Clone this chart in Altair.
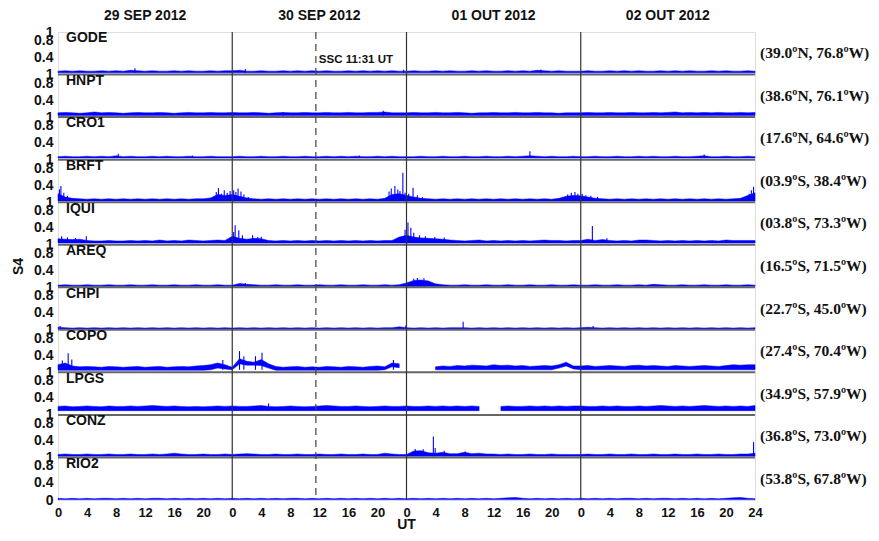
import altair as alt
import pandas as pd

STATIONS = ["GODE", "HNPT", "CRO1", "BRFT", "IQUI", "AREQ", "CHPI", "COPO", "LPGS", "CONZ", "RIO2"]
COORDS = ["(39.0ºN, 76.8ºW)", "(38.6ºN, 76.1ºW)", "(17.6ºN, 64.6ºW)", "(03.9ºS, 38.4ºW)",
          "(03.8ºS, 73.3ºW)", "(16.5ºS, 71.5ºW)", "(22.7ºS, 45.0ºW)", "(27.4ºS, 70.4ºW)",
          "(34.9ºS, 57.9ºW)", "(36.8ºS, 73.0ºW)", "(53.8ºS, 67.8ºW)"]
DAY_LABELS = ["29 SEP 2012", "30 SEP 2012", "01 OUT 2012", "02 OUT 2012"]
DAY_CENTERS = [12, 36, 60, 84]
DAY_BOUNDS = [24, 48, 72]
SSC_HOUR = 24 + 11 + 31 / 60
X_TICKS = list(range(0, 97, 4))

# Hourly upper envelope of S4 (day 1..4, day 4 includes hour 24)
GODE_HI = [
    [0.08, 0.09, 0.08, 0.09, 0.08, 0.08, 0.09, 0.08, 0.09, 0.08, 0.10, 0.09, 0.08, 0.09, 0.08, 0.08, 0.09, 0.08, 0.09, 0.08, 0.08, 0.09, 0.08, 0.09],
    [0.09, 0.10, 0.08, 0.08, 0.09, 0.08, 0.08, 0.09, 0.08, 0.09, 0.08, 0.09, 0.08, 0.09, 0.08, 0.08, 0.09, 0.08, 0.09, 0.08, 0.09, 0.08, 0.09, 0.08],
    [0.08, 0.09, 0.08, 0.08, 0.09, 0.08, 0.09, 0.08, 0.08, 0.09, 0.08, 0.09, 0.08, 0.08, 0.09, 0.08, 0.09, 0.08, 0.10, 0.09, 0.08, 0.09, 0.08, 0.08],
    [0.08, 0.09, 0.08, 0.08, 0.09, 0.08, 0.09, 0.08, 0.09, 0.08, 0.08, 0.09, 0.08, 0.09, 0.08, 0.09, 0.08, 0.08, 0.09, 0.08, 0.09, 0.08, 0.08, 0.09, 0.08],
]
HNPT_HI = [
    [0.10, 0.11, 0.10, 0.09, 0.10, 0.12, 0.10, 0.11, 0.10, 0.09, 0.10, 0.11, 0.10, 0.10, 0.11, 0.10, 0.09, 0.10, 0.11, 0.10, 0.10, 0.11, 0.10, 0.10],
    [0.11, 0.10, 0.10, 0.11, 0.10, 0.09, 0.10, 0.11, 0.10, 0.10, 0.11, 0.10, 0.10, 0.11, 0.10, 0.10, 0.11, 0.10, 0.10, 0.11, 0.11, 0.12, 0.10, 0.10],
    [0.10, 0.11, 0.10, 0.10, 0.11, 0.10, 0.10, 0.11, 0.10, 0.09, 0.10, 0.10, 0.11, 0.10, 0.10, 0.11, 0.10, 0.10, 0.11, 0.10, 0.10, 0.09, 0.10, 0.10],
    [0.10, 0.11, 0.10, 0.10, 0.11, 0.10, 0.10, 0.11, 0.10, 0.10, 0.11, 0.10, 0.11, 0.12, 0.10, 0.11, 0.10, 0.11, 0.10, 0.11, 0.10, 0.10, 0.11, 0.10, 0.11],
]
CRO1_HI = [
    [0.07, 0.08, 0.07, 0.07, 0.08, 0.07, 0.08, 0.07, 0.09, 0.07, 0.08, 0.07, 0.07, 0.08, 0.07, 0.08, 0.07, 0.07, 0.08, 0.07, 0.07, 0.08, 0.07, 0.07],
    [0.07, 0.08, 0.07, 0.07, 0.08, 0.07, 0.07, 0.08, 0.07, 0.07, 0.08, 0.07, 0.07, 0.08, 0.07, 0.08, 0.07, 0.08, 0.07, 0.07, 0.08, 0.07, 0.08, 0.07],
    [0.07, 0.07, 0.08, 0.07, 0.07, 0.08, 0.07, 0.07, 0.08, 0.07, 0.07, 0.08, 0.07, 0.07, 0.08, 0.07, 0.08, 0.09, 0.08, 0.07, 0.08, 0.07, 0.07, 0.08],
    [0.07, 0.07, 0.08, 0.07, 0.07, 0.08, 0.07, 0.07, 0.08, 0.07, 0.08, 0.07, 0.07, 0.08, 0.07, 0.07, 0.08, 0.09, 0.07, 0.07, 0.08, 0.07, 0.07, 0.08, 0.07],
]
BRFT_HI = [
    [0.20, 0.12, 0.09, 0.08, 0.07, 0.08, 0.07, 0.08, 0.07, 0.08, 0.07, 0.08, 0.07, 0.08, 0.07, 0.08, 0.07, 0.08, 0.07, 0.08, 0.08, 0.10, 0.18, 0.16],
    [0.18, 0.14, 0.10, 0.08, 0.07, 0.08, 0.07, 0.08, 0.07, 0.08, 0.07, 0.08, 0.07, 0.08, 0.07, 0.08, 0.07, 0.08, 0.07, 0.08, 0.07, 0.09, 0.18, 0.20],
    [0.16, 0.12, 0.09, 0.08, 0.07, 0.08, 0.07, 0.08, 0.07, 0.08, 0.07, 0.08, 0.07, 0.08, 0.07, 0.08, 0.07, 0.08, 0.07, 0.08, 0.07, 0.09, 0.14, 0.16],
    [0.15, 0.12, 0.09, 0.08, 0.07, 0.08, 0.07, 0.08, 0.07, 0.08, 0.07, 0.08, 0.07, 0.08, 0.07, 0.08, 0.07, 0.08, 0.07, 0.08, 0.07, 0.08, 0.09, 0.16, 0.22],
]
IQUI_HI = [
    [0.14, 0.13, 0.12, 0.13, 0.10, 0.09, 0.09, 0.10, 0.09, 0.09, 0.10, 0.09, 0.10, 0.09, 0.11, 0.09, 0.10, 0.09, 0.11, 0.10, 0.09, 0.10, 0.11, 0.10],
    [0.20, 0.15, 0.13, 0.15, 0.14, 0.10, 0.09, 0.10, 0.09, 0.10, 0.09, 0.10, 0.09, 0.10, 0.09, 0.10, 0.09, 0.10, 0.09, 0.10, 0.09, 0.10, 0.10, 0.18],
    [0.22, 0.18, 0.16, 0.15, 0.14, 0.13, 0.11, 0.10, 0.09, 0.10, 0.11, 0.09, 0.10, 0.09, 0.10, 0.09, 0.10, 0.09, 0.10, 0.11, 0.10, 0.10, 0.09, 0.10],
    [0.10, 0.13, 0.10, 0.12, 0.10, 0.09, 0.10, 0.09, 0.11, 0.11, 0.10, 0.09, 0.10, 0.09, 0.10, 0.09, 0.10, 0.09, 0.10, 0.09, 0.11, 0.10, 0.10, 0.10, 0.10],
]
AREQ_HI = [
    [0.05, 0.06, 0.05, 0.05, 0.06, 0.05, 0.05, 0.06, 0.05, 0.05, 0.06, 0.05, 0.05, 0.06, 0.05, 0.05, 0.06, 0.05, 0.05, 0.06, 0.05, 0.05, 0.06, 0.05],
    [0.05, 0.09, 0.07, 0.06, 0.05, 0.05, 0.06, 0.05, 0.05, 0.06, 0.05, 0.05, 0.06, 0.05, 0.05, 0.06, 0.05, 0.05, 0.06, 0.05, 0.05, 0.06, 0.05, 0.06],
    [0.10, 0.16, 0.17, 0.15, 0.08, 0.06, 0.05, 0.05, 0.06, 0.05, 0.05, 0.06, 0.05, 0.05, 0.06, 0.05, 0.05, 0.06, 0.05, 0.05, 0.06, 0.05, 0.05, 0.06],
    [0.05, 0.05, 0.06, 0.05, 0.05, 0.06, 0.05, 0.05, 0.06, 0.05, 0.07, 0.06, 0.05, 0.05, 0.06, 0.05, 0.05, 0.06, 0.05, 0.05, 0.06, 0.05, 0.05, 0.06, 0.05],
]
CHPI_HI = [
    [0.06, 0.05, 0.04, 0.05, 0.04, 0.05, 0.04, 0.05, 0.04, 0.05, 0.04, 0.05, 0.04, 0.05, 0.04, 0.05, 0.04, 0.05, 0.04, 0.05, 0.04, 0.05, 0.04, 0.05],
    [0.04, 0.05, 0.04, 0.05, 0.04, 0.05, 0.04, 0.05, 0.04, 0.05, 0.04, 0.05, 0.04, 0.05, 0.04, 0.05, 0.04, 0.05, 0.04, 0.05, 0.04, 0.05, 0.05, 0.07],
    [0.05, 0.04, 0.05, 0.04, 0.05, 0.04, 0.05, 0.05, 0.05, 0.04, 0.05, 0.04, 0.05, 0.04, 0.05, 0.04, 0.05, 0.04, 0.05, 0.04, 0.05, 0.04, 0.05, 0.04],
    [0.05, 0.06, 0.05, 0.04, 0.05, 0.04, 0.05, 0.04, 0.05, 0.04, 0.05, 0.04, 0.05, 0.04, 0.05, 0.04, 0.05, 0.04, 0.05, 0.04, 0.05, 0.04, 0.05, 0.04, 0.05],
]
COPO_HI = [
    [0.18, 0.22, 0.15, 0.13, 0.14, 0.13, 0.12, 0.14, 0.13, 0.12, 0.13, 0.14, 0.12, 0.13, 0.14, 0.12, 0.13, 0.14, 0.13, 0.15, 0.16, 0.18, 0.22, 0.18],
    [0.12, 0.32, 0.26, 0.24, 0.30, 0.20, 0.14, 0.12, 0.13, 0.14, 0.12, 0.13, 0.12, 0.14, 0.13, 0.12, 0.14, 0.13, 0.12, 0.14, 0.15, 0.13, 0.22, 0.20],
    [None, None, None, None, 0.13, 0.15, 0.14, 0.16, 0.15, 0.17, 0.16, 0.15, 0.18, 0.16, 0.17, 0.15, 0.16, 0.14, 0.15, 0.16, 0.15, 0.18, 0.24, 0.15],
    [0.15, 0.16, 0.14, 0.15, 0.16, 0.15, 0.14, 0.16, 0.17, 0.15, 0.16, 0.15, 0.14, 0.16, 0.15, 0.14, 0.15, 0.16, 0.15, 0.14, 0.16, 0.18, 0.17, 0.18, 0.18],
]
COPO_LO = [
    [0.05, 0.05, 0.05, 0.05, 0.05, 0.05, 0.05, 0.05, 0.05, 0.05, 0.05, 0.05, 0.05, 0.05, 0.05, 0.05, 0.05, 0.05, 0.05, 0.05, 0.05, 0.06, 0.10, 0.08],
    [0.06, 0.20, 0.17, 0.17, 0.16, 0.10, 0.05, 0.05, 0.05, 0.05, 0.05, 0.05, 0.05, 0.05, 0.05, 0.05, 0.05, 0.05, 0.05, 0.05, 0.05, 0.06, 0.13, 0.11],
    [0.05, 0.05, 0.05, 0.05, 0.06, 0.06, 0.06, 0.06, 0.06, 0.06, 0.06, 0.06, 0.06, 0.06, 0.06, 0.06, 0.06, 0.06, 0.06, 0.06, 0.06, 0.10, 0.15, 0.08],
    [0.06, 0.06, 0.06, 0.06, 0.06, 0.06, 0.06, 0.06, 0.06, 0.06, 0.06, 0.06, 0.06, 0.06, 0.06, 0.06, 0.06, 0.06, 0.06, 0.06, 0.06, 0.06, 0.06, 0.06, 0.06],
]
LPGS_HI = [
    [0.20, 0.21, 0.19, 0.20, 0.21, 0.20, 0.19, 0.21, 0.20, 0.20, 0.21, 0.20, 0.21, 0.22, 0.21, 0.20, 0.21, 0.20, 0.19, 0.20, 0.19, 0.20, 0.21, 0.20],
    [0.21, 0.20, 0.20, 0.21, 0.22, 0.20, 0.19, 0.20, 0.21, 0.20, 0.19, 0.20, 0.21, 0.22, 0.21, 0.20, 0.20, 0.21, 0.20, 0.19, 0.20, 0.21, 0.20, 0.20],
    [0.21, 0.20, 0.20, 0.21, 0.20, 0.21, 0.20, 0.21, 0.20, 0.21, 0.20, None, None, 0.20, 0.21, 0.20, 0.20, 0.21, 0.20, 0.21, 0.20, 0.21, 0.20, 0.21],
    [0.21, 0.20, 0.20, 0.21, 0.20, 0.21, 0.20, 0.20, 0.21, 0.20, 0.21, 0.22, 0.21, 0.20, 0.21, 0.20, 0.21, 0.22, 0.21, 0.20, 0.21, 0.20, 0.21, 0.20, 0.22],
]
CONZ_HI = [
    [0.07, 0.08, 0.07, 0.07, 0.08, 0.07, 0.07, 0.08, 0.07, 0.07, 0.08, 0.07, 0.07, 0.08, 0.07, 0.08, 0.10, 0.08, 0.07, 0.07, 0.08, 0.07, 0.07, 0.08],
    [0.07, 0.08, 0.09, 0.08, 0.07, 0.07, 0.08, 0.07, 0.07, 0.08, 0.07, 0.07, 0.08, 0.07, 0.07, 0.08, 0.07, 0.07, 0.08, 0.07, 0.07, 0.10, 0.08, 0.07],
    [0.07, 0.15, 0.16, 0.11, 0.10, 0.12, 0.09, 0.09, 0.12, 0.09, 0.10, 0.08, 0.08, 0.07, 0.08, 0.07, 0.07, 0.08, 0.07, 0.07, 0.08, 0.07, 0.07, 0.07],
    [0.07, 0.08, 0.07, 0.07, 0.08, 0.07, 0.07, 0.08, 0.07, 0.07, 0.08, 0.07, 0.07, 0.08, 0.07, 0.07, 0.08, 0.07, 0.07, 0.08, 0.07, 0.07, 0.08, 0.08, 0.10],
]
RIO2_HI = [
    [0.04, 0.03, 0.04, 0.03, 0.04, 0.03, 0.04, 0.04, 0.03, 0.04, 0.03, 0.04, 0.03, 0.04, 0.04, 0.03, 0.04, 0.03, 0.04, 0.03, 0.04, 0.03, 0.04, 0.03],
    [0.04, 0.03, 0.04, 0.03, 0.04, 0.03, 0.04, 0.03, 0.04, 0.04, 0.03, 0.04, 0.03, 0.04, 0.03, 0.04, 0.03, 0.04, 0.03, 0.04, 0.03, 0.04, 0.03, 0.04],
    [0.03, 0.04, 0.03, 0.04, 0.03, 0.04, 0.03, 0.04, 0.03, 0.04, 0.03, 0.04, 0.03, 0.04, 0.05, 0.06, 0.04, 0.03, 0.04, 0.03, 0.04, 0.03, 0.04, 0.03],
    [0.04, 0.03, 0.04, 0.03, 0.04, 0.03, 0.04, 0.04, 0.03, 0.04, 0.03, 0.04, 0.04, 0.03, 0.04, 0.03, 0.04, 0.03, 0.04, 0.03, 0.04, 0.05, 0.06, 0.04, 0.03],
]

HI = {"GODE": GODE_HI, "HNPT": HNPT_HI, "CRO1": CRO1_HI, "BRFT": BRFT_HI, "IQUI": IQUI_HI,
      "AREQ": AREQ_HI, "CHPI": CHPI_HI, "COPO": COPO_HI, "LPGS": LPGS_HI, "CONZ": CONZ_HI,
      "RIO2": RIO2_HI}
# lower envelope of the noisy trace
LO = {"GODE": 0.04, "HNPT": 0.04, "CRO1": 0.04, "BRFT": 0.03, "IQUI": 0.04, "AREQ": 0.02,
      "CHPI": 0.02, "COPO": COPO_LO, "LPGS": 0.10, "CONZ": 0.03, "RIO2": 0.01}

# individual spikes: (station, hour since 29 Sep 00 UT, S4 peak)
SPIKES = [
    ("GODE", 10.6, 0.15), ("GODE", 25.8, 0.13), ("GODE", 47.6, 0.11), ("GODE", 66.5, 0.12),
    ("HNPT", 5.0, 0.12), ("HNPT", 31.0, 0.12), ("HNPT", 44.8, 0.15),
    ("CRO1", 8.3, 0.14), ("CRO1", 18.5, 0.10), ("CRO1", 41.5, 0.10), ("CRO1", 65.0, 0.20), ("CRO1", 89.0, 0.12),
    ("BRFT", 0.2, 0.30), ("BRFT", 0.4, 0.38), ("BRFT", 0.8, 0.22), ("BRFT", 1.3, 0.15),
    ("BRFT", 21.8, 0.24), ("BRFT", 22.1, 0.33), ("BRFT", 22.5, 0.20), ("BRFT", 22.9, 0.28),
    ("BRFT", 23.3, 0.22), ("BRFT", 23.7, 0.26), ("BRFT", 24.2, 0.28), ("BRFT", 24.5, 0.24),
    ("BRFT", 24.8, 0.32), ("BRFT", 25.2, 0.25), ("BRFT", 25.6, 0.18), ("BRFT", 26.2, 0.12),
    ("BRFT", 45.6, 0.25), ("BRFT", 45.9, 0.32), ("BRFT", 46.4, 0.38), ("BRFT", 46.8, 0.30),
    ("BRFT", 47.1, 0.26), ("BRFT", 47.5, 0.69), ("BRFT", 47.8, 0.22), ("BRFT", 48.3, 0.20),
    ("BRFT", 48.9, 0.34), ("BRFT", 49.5, 0.16), ("BRFT", 50.2, 0.12),
    ("BRFT", 70.2, 0.18), ("BRFT", 70.7, 0.22), ("BRFT", 71.2, 0.24), ("BRFT", 71.6, 0.20),
    ("BRFT", 72.2, 0.20), ("BRFT", 72.7, 0.16), ("BRFT", 73.4, 0.15), ("BRFT", 74.3, 0.13),
    ("BRFT", 95.2, 0.20), ("BRFT", 95.5, 0.28), ("BRFT", 95.8, 0.36),
    ("IQUI", 0.5, 0.20), ("IQUI", 1.3, 0.17), ("IQUI", 2.4, 0.16), ("IQUI", 3.9, 0.20),
    ("IQUI", 24.2, 0.30), ("IQUI", 24.4, 0.46), ("IQUI", 24.9, 0.34), ("IQUI", 25.4, 0.22),
    ("IQUI", 26.8, 0.22), ("IQUI", 27.5, 0.18), ("IQUI", 28.0, 0.19),
    ("IQUI", 47.8, 0.35), ("IQUI", 48.2, 0.52), ("IQUI", 48.6, 0.40), ("IQUI", 49.0, 0.28),
    ("IQUI", 49.8, 0.22), ("IQUI", 50.6, 0.20), ("IQUI", 51.9, 0.18), ("IQUI", 53.2, 0.17),
    ("IQUI", 73.6, 0.44), ("IQUI", 75.6, 0.15),
    ("AREQ", 25.8, 0.10), ("AREQ", 49.0, 0.20), ("AREQ", 49.5, 0.22), ("AREQ", 50.4, 0.21),
    ("CHPI", 0.3, 0.09), ("CHPI", 47.9, 0.10), ("CHPI", 55.8, 0.19), ("CHPI", 73.7, 0.09),
    ("COPO", 0.6, 0.28), ("COPO", 1.4, 0.45), ("COPO", 1.9, 0.30), ("COPO", 22.7, 0.29),
    ("COPO", 25.0, 0.50), ("COPO", 25.6, 0.38), ("COPO", 27.2, 0.38), ("COPO", 28.1, 0.46),
    ("COPO", 46.2, 0.29),
    ("LPGS", 29.0, 0.27),
    ("CONZ", 49.2, 0.20), ("CONZ", 50.3, 0.19), ("CONZ", 51.7, 0.49), ("CONZ", 51.95, 0.22),
    ("CONZ", 53.2, 0.16), ("CONZ", 56.1, 0.14), ("CONZ", 95.8, 0.36),
]

N = len(STATIONS)
offset = {s: N - 1 - i for i, s in enumerate(STATIONS)}

rows = []
for s in STATIONS:
    hi = [v for day in HI[s] for v in day]
    lo = LO[s]
    lo_list = [v for day in lo for v in day] if isinstance(lo, list) else None
    seg = 0
    for h, v in enumerate(hi):
        if v is None:
            seg += 1
            continue
        l = lo_list[h] if lo_list else lo
        rows.append({"station": s, "key": f"{s}-{seg}", "hour": h,
                     "ylo": offset[s] + l, "yhi": offset[s] + v})
trace = pd.DataFrame(rows)

spk = pd.DataFrame([{"station": s, "hour": h,
                     "ylo": offset[s] + (LO[s] if not isinstance(LO[s], list) else 0.06),
                     "yhi": offset[s] + v} for s, h, v in SPIKES])

labels = pd.DataFrame({"station": STATIONS, "coord": COORDS,
                       "ylab": [offset[s] + 0.85 for s in STATIONS],
                       "ymid": [offset[s] + 0.5 for s in STATIONS]})
days = pd.DataFrame({"hour": DAY_CENTERS, "label": DAY_LABELS})
bounds = pd.DataFrame({"hour": DAY_BOUNDS})
seps = pd.DataFrame({"y": list(range(1, N))})
ssc = pd.DataFrame({"hour": [SSC_HOUR], "y": [offset["GODE"] + 0.34], "label": ["SSC 11:31 UT"]})
xtitle = pd.DataFrame({"hour": [48], "label": ["UT"]})

y_ticks = [0] + [round(k + f, 2) for k in range(N) for f in (0.4, 0.8, 1.0)]

BLUE = "#0000ff"
SANS = "Liberation Sans"

xscale = alt.Scale(domain=[0, 96], nice=False, zero=False)
yscale = alt.Scale(domain=[0, N], nice=False, zero=False)

x_axis = alt.Axis(values=X_TICKS, tickCount=100, labelExpr="datum.value == 96 ? '24' : '' + (datum.value % 24)",
                  title=None, grid=False, ticks=False, domain=False, labelFont=SANS,
                  labelFontWeight="bold", labelFontSize=13, labelColor="#111", labelPadding=6,
                  labelOverlap=False, labelFlush=False)
y_axis = alt.Axis(values=y_ticks, tickCount=100,
                  labelExpr="datum.value == 0 ? '0' : (abs(datum.value - round(datum.value)) < 0.01 ? '1' : format(datum.value - floor(datum.value), '.1f'))",
                  title="S4", grid=False, ticks=False, domain=False, labelFont=SANS,
                  labelFontWeight="bold", labelFontSize=14, labelColor="#111", labelPadding=5,
                  titleFont=SANS, titleFontWeight="bold", titleFontSize=14, titleColor="#111",
                  titlePadding=8, labelOverlap=False, labelFlush=False)

band = alt.Chart(trace).mark_area(color=BLUE, stroke=BLUE, strokeWidth=0.5, opacity=1).encode(
    x=alt.X("hour:Q", scale=xscale, axis=x_axis),
    y=alt.Y("ylo:Q", scale=yscale, axis=y_axis),
    y2="yhi:Q",
    detail="key:N",
)

spikes = alt.Chart(spk).mark_rule(color=BLUE, strokeWidth=1.1).encode(
    x="hour:Q", y="ylo:Q", y2="yhi:Q")

sep_rules = alt.Chart(seps).mark_rule(color="#666666", strokeWidth=2).encode(y="y:Q")
day_rules = alt.Chart(bounds).mark_rule(color="#333333", strokeWidth=1.2).encode(x="hour:Q")
ssc_rule = alt.Chart(ssc).mark_rule(color="#444444", strokeWidth=1.2, strokeDash=[7, 5]).encode(x="hour:Q")

st_text = alt.Chart(labels).mark_text(align="left", baseline="middle", font=SANS, fontWeight="bold",
                                      fontSize=14, color="#111").encode(
    x=alt.value(8), y="ylab:Q", text="station:N")
coord_text = alt.Chart(labels).mark_text(align="left", baseline="middle", font="Liberation Serif",
                                         fontWeight="bold", fontSize=15.5, color="#111").encode(
    x=alt.value(702), y="ymid:Q", text="coord:N")
day_text = alt.Chart(days).mark_text(align="center", baseline="middle", font=SANS, fontWeight="bold",
                                     fontSize=14, color="#111").encode(
    x="hour:Q", y=alt.value(-16), text="label:N")
ssc_text = alt.Chart(ssc).mark_text(align="left", baseline="middle", dx=3, font=SANS, fontWeight="bold",
                                    fontSize=11.5, color="#111").encode(
    x="hour:Q", y="y:Q", text="label:N")
ut_text = alt.Chart(xtitle).mark_text(align="center", baseline="alphabetic", font=SANS, fontWeight="bold",
                                      fontSize=14, color="#111").encode(
    x="hour:Q", y=alt.value(497), text="label:N")

chart = alt.layer(band, spikes, sep_rules, day_rules, ssc_rule, st_text, coord_text, day_text,
                  ssc_text, ut_text).properties(
    width=697, height=468,
    padding={"left": 50, "top": 24, "right": 116, "bottom": 33},
    autosize=alt.AutoSizeParams(type="none"),
).configure_view(stroke="#444444", strokeWidth=1.5).configure(background="white")

chart.save("out.html", embed_options={"renderer": "svg", "actions": False})
